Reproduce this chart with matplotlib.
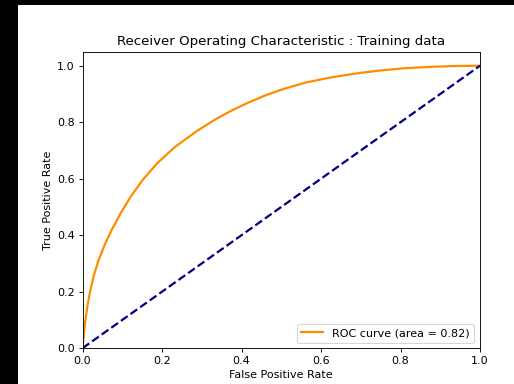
import numpy as np
import matplotlib
matplotlib.use("Agg")
import matplotlib.pyplot as plt
from matplotlib.patches import Rectangle

# ROC points
fpr = [0.0, 0.001, 0.004, 0.008, 0.013, 0.019, 0.029, 0.040, 0.057, 0.075,
       0.096, 0.121, 0.151, 0.188, 0.233, 0.287, 0.334, 0.376, 0.418, 0.46,
       0.502, 0.56, 0.623, 0.69, 0.748, 0.81, 0.874, 0.94, 1.0]
tpr = [0.0, 0.015, 0.058, 0.106, 0.155, 0.2, 0.26, 0.31, 0.37, 0.423,
       0.478, 0.536, 0.595, 0.655, 0.713, 0.768, 0.81, 0.842, 0.870, 0.895,
       0.916, 0.94, 0.958, 0.973, 0.983, 0.991, 0.996, 0.999, 1.0]
roc_auc = 0.82

diag = [0, 1]

fig = plt.figure(figsize=(514 / 80, 384 / 80), dpi=80, facecolor='black')
# white canvas, offset like the screenshot
fig.patches.append(Rectangle((18 / 514, 0), 1, (384 - 5) / 384,
                             transform=fig.transFigure, facecolor='white',
                             edgecolor='none', zorder=-10))

ax = fig.add_axes([82.5 / 514, (384 - 348.2) / 384, 397.5 / 514, 296.6 / 384])
ax.plot(fpr, tpr, color='darkorange', lw=2,
        label='ROC curve (area = %0.2f)' % roc_auc)
ax.plot(diag, diag, color='navy', lw=2, linestyle='--')
ax.set_xlim([0.0, 1.0])
ax.set_ylim([0.0, 1.05])
ax.set_xlabel('False Positive Rate')
ax.set_ylabel('True Positive Rate')
ax.set_title('Receiver Operating Characteristic : Training data')
ax.legend(loc='lower right')

fig.savefig('out.png', dpi=80, facecolor='black')
